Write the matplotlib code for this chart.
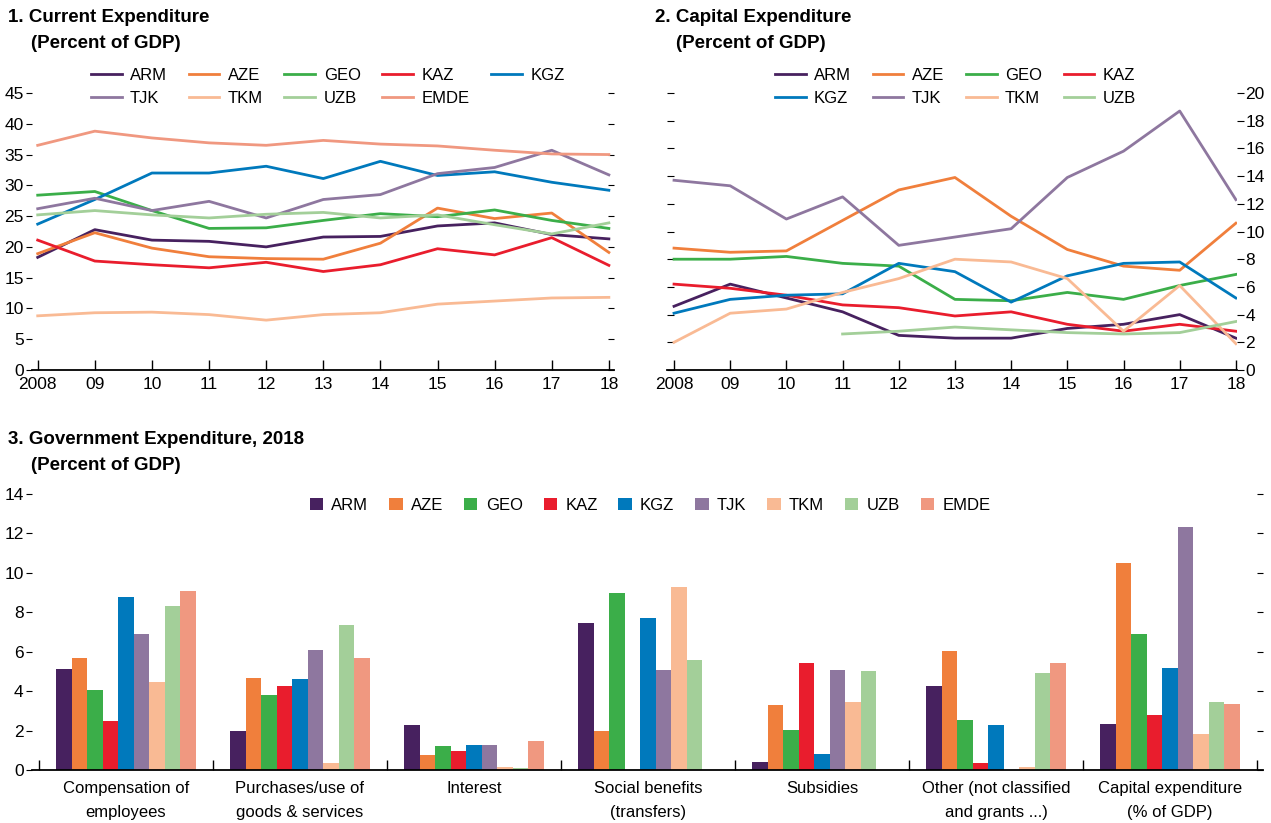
import numpy as np
import matplotlib
matplotlib.use("Agg")
import matplotlib.pyplot as plt

plt.rcParams['font.family'] = ['Liberation Sans', 'DejaVu Sans']

years = ["2008", "09", "10", "11", "12", "13", "14", "15", "16", "17", "18"]

colors = {
    "ARM": "#47215F", "AZE": "#F07F3C", "GEO": "#3BAE49", "KAZ": "#E91D2D",
    "KGZ": "#0079BC", "TJK": "#8E779F", "TKM": "#F9BA94", "UZB": "#A3CF99",
    "EMDE": "#F09880",
}

# panel 1: current expenditure
cur_arm = [18.3, 22.8, 21.1, 20.9, 20.0, 21.6, 21.7, 23.4, 23.9, 22.0, 21.3]
cur_aze = [18.9, 22.3, 19.8, 18.4, 18.1, 18.0, 20.6, 26.3, 24.6, 25.5, 19.1]
cur_geo = [28.4, 29.0, 25.9, 23.0, 23.1, 24.3, 25.4, 24.9, 26.0, 24.3, 23.0]
cur_kaz = [21.1, 17.7, 17.1, 16.6, 17.5, 16.0, 17.1, 19.7, 18.7, 21.5, 17.0]
cur_kgz = [23.7, 27.7, 32.0, 32.0, 33.1, 31.1, 33.9, 31.6, 32.2, 30.5, 29.2]
cur_tjk = [26.2, 27.9, 25.9, 27.4, 24.7, 27.7, 28.5, 31.9, 32.9, 35.7, 31.7]
cur_tkm = [8.8, 9.3, 9.4, 9.0, 8.1, 9.0, 9.3, 10.7, 11.2, 11.7, 11.8]
cur_uzb = [25.2, 25.9, 25.2, 24.7, 25.3, 25.6, 24.7, 25.2, 23.6, 22.1, 23.9]
cur_emde = [36.5, 38.8, 37.7, 36.9, 36.5, 37.3, 36.7, 36.4, 35.7, 35.1, 35.0]

# panel 2: capital expenditure
cap_arm = [4.6, 6.2, 5.2, 4.2, 2.5, 2.3, 2.3, 3.0, 3.3, 4.0, 2.3]
cap_aze = [8.8, 8.5, 8.6, 10.8, 13.0, 13.9, 11.1, 8.7, 7.5, 7.2, 10.6]
cap_geo = [8.0, 8.0, 8.2, 7.7, 7.5, 5.1, 5.0, 5.6, 5.1, 6.1, 6.9]
cap_kaz = [6.2, 5.9, 5.4, 4.7, 4.5, 3.9, 4.2, 3.3, 2.8, 3.3, 2.8]
cap_kgz = [4.1, 5.1, 5.4, 5.5, 7.7, 7.1, 4.9, 6.8, 7.7, 7.8, 5.2]
cap_tjk = [13.7, 13.3, 10.9, 12.5, 9.0, 9.6, 10.2, 13.9, 15.8, 18.7, 12.3]
cap_tkm = [2.0, 4.1, 4.4, 5.6, 6.6, 8.0, 7.8, 6.6, 2.8, 6.1, 1.9]
cap_uzb = [np.nan, np.nan, np.nan, 2.6, 2.8, 3.1, 2.9, 2.7, 2.6, 2.7, 3.5]

# panel 3: government expenditure 2018 by category
categories = ["Compensation of\nemployees", "Purchases/use of\ngoods & services", "Interest",
              "Social benefits\n(transfers)", "Subsidies", "Other (not classified\nand grants ...)",
              "Capital expenditure\n(% of GDP)"]
bar_arm = [5.1, 2.0, 2.28, 7.44, 0.4, 4.25, 2.33]
bar_aze = [5.7, 4.65, 0.76, 1.97, 3.29, 6.02, 10.52]
bar_geo = [4.05, 3.8, 1.21, 9.0, 2.02, 2.53, 6.88]
bar_kaz = [2.5, 4.25, 0.96, np.nan, 5.41, 0.35, 2.78]
bar_kgz = [8.8, 4.6, 1.26, 7.69, 0.81, 2.28, 5.16]
bar_tjk = [6.9, 6.07, 1.26, 5.06, 5.06, np.nan, 12.34]
bar_tkm = [4.45, 0.35, 0.15, 9.3, 3.44, 0.15, 1.82]
bar_uzb = [8.3, 7.33, 0.1, 5.6, 5.0, 4.9, 3.44]
bar_emde = [9.1, 5.7, 1.47, np.nan, np.nan, 5.41, 3.34]

cur = {"ARM": cur_arm, "AZE": cur_aze, "GEO": cur_geo, "KAZ": cur_kaz, "KGZ": cur_kgz,
       "TJK": cur_tjk, "TKM": cur_tkm, "UZB": cur_uzb, "EMDE": cur_emde}
cap = {"ARM": cap_arm, "AZE": cap_aze, "GEO": cap_geo, "KAZ": cap_kaz, "KGZ": cap_kgz,
       "TJK": cap_tjk, "TKM": cap_tkm, "UZB": cap_uzb}
bars = {"ARM": bar_arm, "AZE": bar_aze, "GEO": bar_geo, "KAZ": bar_kaz, "KGZ": bar_kgz,
        "TJK": bar_tjk, "TKM": bar_tkm, "UZB": bar_uzb, "EMDE": bar_emde}

W, H = 1271, 823
fig = plt.figure(figsize=(W / 100, H / 100), dpi=100)

def fx(px):
    return px / W

def fy(py):
    return 1 - py / H

def box(l, r, t, b):
    return [fx(l), fy(b), fx(r) - fx(l), fy(t) - fy(b)]

FS = 12.5
TFS = 13.5

def style_line_ax(ax):
    for s in ["top", "left", "right"]:
        ax.spines[s].set_visible(False)
    ax.spines["bottom"].set_linewidth(1.3)
    ax.set_xticks(range(len(years)))
    ax.set_xticklabels(years, fontsize=FS)
    ax.tick_params(axis="x", direction="in", length=7, width=1, pad=5)

leg_kw = dict(frameon=False, fontsize=12, handlelength=1.85, columnspacing=1.3,
              handletextpad=0.5, labelspacing=0.5, borderaxespad=0)

# panel 1
ax1 = fig.add_axes(box(32, 614, 93, 370))
x = np.arange(len(years))
h1 = {}
for k, v in cur.items():
    h1[k], = ax1.plot(x, v, color=colors[k], lw=2)
style_line_ax(ax1)
ax1.set_xlim(-0.1, 10.09)
ax1.set_ylim(0, 45)
ax1.set_yticks(range(0, 46, 5))
ax1.tick_params(axis="y", left=True, right=True, labelleft=True, labelright=False,
                direction="out", length=4, labelsize=FS, pad=2)
for t in ax1.yaxis.get_ticklines()[1::2]:
    t.set_marker(0)
order1 = ["ARM", "TJK", "AZE", "TKM", "GEO", "UZB", "KAZ", "EMDE", "KGZ"]
fig.legend([h1[k] for k in order1], order1, loc="upper left", bbox_to_anchor=(fx(84), fy(61)),
           ncol=5, **leg_kw)
fig.text(fx(8), fy(18), "1. Current Expenditure", fontsize=TFS, fontweight="bold", va="center")
fig.text(fx(31), fy(44), "(Percent of GDP)", fontsize=TFS, fontweight="bold", va="center")

# panel 2
ax2 = fig.add_axes(box(667, 1237, 93, 370))
h2 = {}
for k, v in cap.items():
    h2[k], = ax2.plot(x, v, color=colors[k], lw=2)
style_line_ax(ax2)
ax2.set_xlim(-0.125, 10.02)
ax2.set_ylim(0, 20)
ax2.set_yticks(range(0, 21, 2))
ax2.tick_params(axis="y", left=True, right=True, labelleft=False, labelright=True,
                direction="out", length=5, labelsize=FS, pad=1)
for t in ax2.yaxis.get_ticklines()[0::2]:
    t.set_marker(1)
order2 = ["ARM", "KGZ", "AZE", "TJK", "GEO", "TKM", "KAZ", "UZB"]
fig.legend([h2[k] for k in order2], order2, loc="upper left", bbox_to_anchor=(fx(768), fy(61)),
           ncol=4, **leg_kw)
fig.text(fx(655), fy(18), "2. Capital Expenditure", fontsize=TFS, fontweight="bold", va="center")
fig.text(fx(676), fy(44), "(Percent of GDP)", fontsize=TFS, fontweight="bold", va="center")

# panel 3
ax3 = fig.add_axes(box(32, 1263, 494, 770))
n = len(bars)
bw = 0.0889
gx = np.arange(len(categories))
hb = []
for i, (k, v) in enumerate(bars.items()):
    hb.append(ax3.bar(gx + (i - (n - 1) / 2) * bw, v, width=bw, color=colors[k], label=k))
for s in ["top", "left", "right"]:
    ax3.spines[s].set_visible(False)
ax3.spines["bottom"].set_linewidth(1.3)
ax3.set_xlim(-0.54, len(categories) - 0.5 + 0.034)
ax3.set_ylim(0, 14)
ax3.set_yticks(range(0, 15, 2))
ax3.tick_params(axis="y", left=True, right=True, labelleft=True, labelright=False,
                direction="out", length=4, labelsize=FS, pad=2)
for t in ax3.yaxis.get_ticklines()[1::2]:
    t.set_marker(0)
ax3.set_xticks(np.arange(-0.5, len(categories)), minor=False)
ax3.set_xticklabels([""] * (len(categories) + 1))
ax3.tick_params(axis="x", which="major", direction="in", length=7, width=1)
ax3.set_xticks(gx, minor=True)
ax3.set_xticklabels(categories, minor=True, fontsize=12, linespacing=1.7)
ax3.tick_params(axis="x", which="minor", length=0, pad=8)
fig.legend(hb, list(bars.keys()), loc="upper left", bbox_to_anchor=(fx(303), fy(491)),
           ncol=9, frameon=False, fontsize=12, handlelength=0.8, handleheight=0.8,
           columnspacing=1.25, handletextpad=0.5, borderaxespad=0)
fig.text(fx(8), fy(440), "3. Government Expenditure, 2018", fontsize=TFS, fontweight="bold", va="center")
fig.text(fx(31), fy(466), "(Percent of GDP)", fontsize=TFS, fontweight="bold", va="center")

fig.savefig("out.png", dpi=100)
